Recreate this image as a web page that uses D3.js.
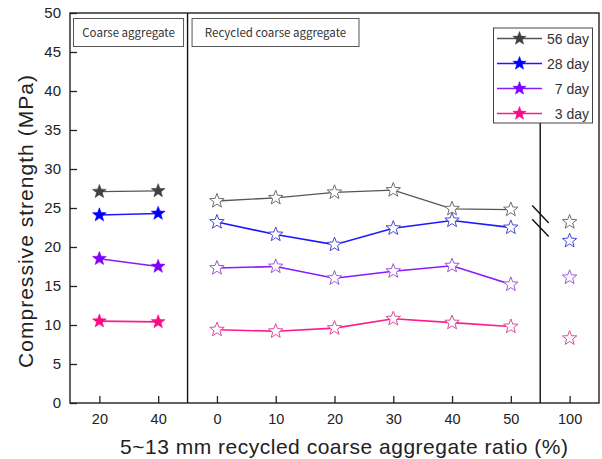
<!DOCTYPE html>
<html>
<head>
<meta charset="utf-8">
<script src="https://cdn.jsdelivr.net/npm/d3@7"></script>
<style>
  html, body { margin: 0; padding: 0; background: #fff; }
  svg { display: block; }
</style>
</head>
<body>
<svg id="chart" width="602" height="459"></svg>
<script>
// Mix proportions: two natural-aggregate sizes, six recycled ratios, then 100 % after the axis break
const categories = ["20", "40", "0", "10", "20", "30", "40", "50", "100"];
const naturalIdx = [0, 1];
const recycledIdx = [2, 3, 4, 5, 6, 7];
const fullIdx = [8];

const day56 = [27.1, 27.2, 25.9, 26.3, 27.0, 27.3, 24.9, 24.8, 23.2];
const day28 = [24.1, 24.3, 23.2, 21.6, 20.3, 22.4, 23.4, 22.5, 20.8];
const day7  = [18.5, 17.5, 17.3, 17.5, 16.0, 16.9, 17.6, 15.2, 16.1];
const day3  = [10.5, 10.4,  9.4,  9.2,  9.6, 10.8, 10.3,  9.8,  8.3];

const seriesNames = ["56 day", "28 day", "7 day", "3 day"];
const yTicks = [0, 5, 10, 15, 20, 25, 30, 35, 40, 45, 50];

const series = [
  { name: seriesNames[0], values: day56, line: "#555555", fill: "#404040", hollow: "#6e6e6e", w: 1.3 },
  { name: seriesNames[1], values: day28, line: "#1a1aff", fill: "#0000ff", hollow: "#4747d6", w: 1.6 },
  { name: seriesNames[2], values: day7,  line: "#8a1aff", fill: "#8000ff", hollow: "#9a5ad8", w: 1.6 },
  { name: seriesNames[3], values: day3,  line: "#ff1a8c", fill: "#ff0a84", hollow: "#d94c9c", w: 1.6 }
];

const svg = d3.select("#chart");
const plotL = 70, plotR = 599, plotT = 13, plotB = 403;

const x = d3.scaleLinear().domain([-0.5, categories.length - 0.5]).range([plotL, plotR]);
const y = d3.scaleLinear().domain([0, 50]).range([plotB, plotT]);

const tickFont = "'Liberation Sans', Arial, sans-serif";

// axes with inward ticks
const xAxis = d3.axisBottom(x)
  .tickValues(d3.range(categories.length))
  .tickFormat(i => categories[i])
  .tickSizeInner(-7).tickSizeOuter(0).tickPadding(11);
const yAxis = d3.axisLeft(y)
  .tickValues(yTicks)
  .tickSizeInner(-7).tickSizeOuter(0).tickPadding(9);

const gx = svg.append("g").attr("transform", `translate(0,${plotB})`).call(xAxis);
const gy = svg.append("g").attr("transform", `translate(${plotL},0)`).call(yAxis);
[gx, gy].forEach(g => {
  g.select(".domain").remove();
  g.selectAll(".tick line").attr("stroke", "#222").attr("stroke-width", 1.3);
  g.selectAll(".tick text").attr("fill", "#222").style("font-family", tickFont).style("font-size", "14.5px");
});
gy.selectAll(".tick text").style("font-size", "15px");

// section divider between natural and recycled aggregate
svg.append("line")
  .attr("x1", x(1.5)).attr("x2", x(1.5))
  .attr("y1", plotT).attr("y2", plotB)
  .attr("stroke", "#111").attr("stroke-width", 1.4);

// frame
svg.append("rect")
  .attr("x", plotL).attr("y", plotT)
  .attr("width", plotR - plotL).attr("height", plotB - plotT)
  .attr("fill", "none").attr("stroke", "#222").attr("stroke-width", 1.4);

// group header boxes
const headers = [
  { label: "Coarse aggregate", x0: x(-0.5) + 3.5, x1: x(1.5) - 4 },
  { label: "Recycled coarse aggregate", x0: x(1.5) + 4.5, x1: 359 }
];
headers.forEach(h => {
  svg.append("rect")
    .attr("x", h.x0).attr("y", 18.5)
    .attr("width", h.x1 - h.x0).attr("height", 28)
    .attr("fill", "#fff").attr("stroke", "#555").attr("stroke-width", 1);
  svg.append("text")
    .attr("x", (h.x0 + h.x1) / 2).attr("y", 37)
    .attr("text-anchor", "middle")
    .attr("fill", "#333")
    .style("font-family", "'Noto Sans CJK KR', 'Noto Sans', sans-serif")
    .style("font-size", "11.5px")
    .text(h.label);
});

// five-point star path
function starPath(r) {
  const inner = r * 0.42;
  const pts = [];
  for (let k = 0; k < 10; k++) {
    const rad = k % 2 === 0 ? r : inner;
    const a = -Math.PI / 2 + k * Math.PI / 5;
    pts.push([rad * Math.cos(a), rad * Math.sin(a)]);
  }
  return "M" + pts.map(p => p[0].toFixed(2) + "," + p[1].toFixed(2)).join("L") + "Z";
}

series.forEach(s => {
  const path = d3.line().x(i => x(i)).y(i => y(s.values[i]));
  [naturalIdx, recycledIdx].forEach(idx => {
    svg.append("path")
      .attr("d", path(idx))
      .attr("fill", "none")
      .attr("stroke", s.line)
      .attr("stroke-width", s.w);
  });
  // solid stars for natural aggregate
  svg.selectAll(null).data(naturalIdx).join("path")
    .attr("d", starPath(7.2))
    .attr("transform", i => `translate(${x(i)},${y(s.values[i])})`)
    .attr("fill", s.fill).attr("stroke", s.fill).attr("stroke-width", 0.6);
  // open stars for recycled aggregate
  svg.selectAll(null).data(recycledIdx.concat(fullIdx)).join("path")
    .attr("d", starPath(7.6))
    .attr("transform", i => `translate(${x(i)},${y(s.values[i])})`)
    .attr("fill", "#fff").attr("stroke", s.hollow).attr("stroke-width", 1);
});

// legend box extent
const lg = { x0: 493.5, y0: 28, x1: 592.5, y1: 123 };

// axis-break line and marks before the 100 % column
const breakPos = x(7.5);
svg.append("line")
  .attr("x1", breakPos).attr("x2", breakPos)
  .attr("y1", lg.y1).attr("y2", plotB)
  .attr("stroke", "#111").attr("stroke-width", 1.4);
[24.2, 22.45].forEach(v => {
  svg.append("line")
    .attr("x1", breakPos - 8).attr("y1", y(v) - 8.7)
    .attr("x2", breakPos + 8.5).attr("y2", y(v) + 8.7)
    .attr("stroke", "#111").attr("stroke-width", 1.4);
});

svg.append("rect")
  .attr("x", lg.x0).attr("y", lg.y0)
  .attr("width", lg.x1 - lg.x0).attr("height", lg.y1 - lg.y0)
  .attr("fill", "#fff").attr("stroke", "#444").attr("stroke-width", 1);
const legendY = d3.scalePoint().domain(seriesNames).range([38.5, 113.5]);
series.forEach(s => {
  const ly = legendY(s.name);
  svg.append("line")
    .attr("x1", 497).attr("x2", 542).attr("y1", ly).attr("y2", ly)
    .attr("stroke", s.line).attr("stroke-width", 1.6);
  svg.append("path")
    .attr("d", starPath(7))
    .attr("transform", `translate(519.5,${ly})`)
    .attr("fill", s.fill).attr("stroke", s.fill).attr("stroke-width", 0.5);
  svg.append("text")
    .attr("x", 589).attr("y", ly + 5)
    .attr("text-anchor", "end")
    .attr("fill", "#333")
    .style("font-family", tickFont).style("font-size", "14px")
    .text(s.name);
});

// axis titles
svg.append("text")
  .attr("x", 344).attr("y", 454)
  .attr("text-anchor", "middle")
  .attr("fill", "#222")
  .attr("textLength", 448).attr("lengthAdjust", "spacing")
  .style("font-family", tickFont).style("font-size", "21px")
  .text("5~13 mm recycled coarse aggregate ratio (%)");

svg.append("text")
  .attr("transform", "translate(32.5,221.5) rotate(-90)")
  .attr("text-anchor", "middle")
  .attr("fill", "#222")
  .attr("textLength", 293).attr("lengthAdjust", "spacing")
  .style("font-family", tickFont).style("font-size", "21px")
  .text("Compressive strength (MPa)");
</script>
</body>
</html>
